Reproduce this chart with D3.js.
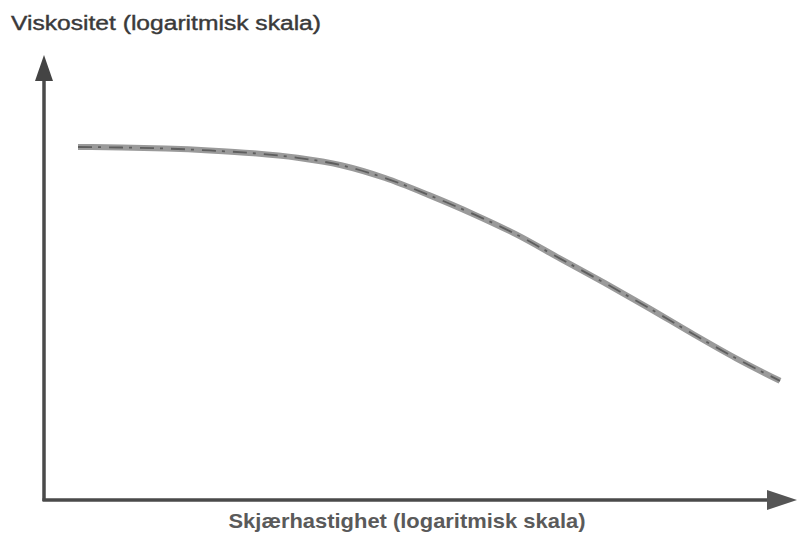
<!DOCTYPE html>
<html>
<head>
<meta charset="utf-8">
<script src="https://cdn.jsdelivr.net/npm/d3@7"></script>
<style>
  html, body { margin: 0; padding: 0; background: #fff; }
  svg { display: block; }
</style>
</head>
<body>
<script>
// Shear-thinning flow curve: viscosity vs. shear rate, both on log scales
const shearRate = [0.1, 0.178, 0.316, 0.562, 1, 1.78, 3.16, 5.62, 10, 17.8, 31.6, 56.2, 100, 178, 316, 562, 1000];
const viscosity = [1000, 990, 970, 935, 885, 810, 700, 545, 390, 270, 180, 112, 70, 43, 26, 16, 10.3];
const yTitle = "Viskositet (logaritmisk skala)";
const xTitle = "Skjærhastighet (logaritmisk skala)";

const W = 804, H = 553;
const originX = 44, originY = 500;
const xArrowTip = 797, yArrowTip = 55;

const svg = d3.select("body").append("svg")
  .attr("width", W).attr("height", H);

const x = d3.scaleLog().domain([0.1, 1000]).range([78, 780]);
const y = d3.scaleLog().domain([1, 1000]).range([originY, 147]);

const axisColor = "#4a4a4a";

// axes with arrowheads
svg.append("line")
  .attr("x1", originX).attr("y1", originY + 1)
  .attr("x2", originX).attr("y2", yArrowTip + 20)
  .attr("stroke", axisColor).attr("stroke-width", 3.5);
svg.append("path")
  .attr("d", `M${originX},${yArrowTip} L${originX - 9},${yArrowTip + 26} L${originX + 9},${yArrowTip + 26} Z`)
  .attr("fill", "#444");

svg.append("line")
  .attr("x1", originX - 1.5).attr("y1", originY)
  .attr("x2", xArrowTip - 20).attr("y2", originY)
  .attr("stroke", axisColor).attr("stroke-width", 3.5);
svg.append("path")
  .attr("d", `M${xArrowTip},${originY} L${xArrowTip - 30},${originY - 10} L${xArrowTip - 30},${originY + 10} Z`)
  .attr("fill", "#555");

// flow curve
const pts = shearRate.map((s, i) => [s, viscosity[i]]);
const line = d3.line()
  .x(d => x(d[0]))
  .y(d => y(d[1]))
  .curve(d3.curveMonotoneX);

svg.append("path")
  .datum(pts)
  .attr("d", line)
  .attr("fill", "none")
  .attr("stroke", "#9a9a9a")
  .attr("stroke-width", 6)
  .attr("stroke-linecap", "butt");
svg.append("path")
  .datum(pts)
  .attr("d", line)
  .attr("fill", "none")
  .attr("stroke", "#5e5e5e")
  .attr("stroke-width", 1.8)
  .attr("stroke-dasharray", "14 6 3 8");

// axis titles
svg.append("text")
  .attr("x", 11).attr("y", 30)
  .attr("font-family", "Liberation Sans, Arial, sans-serif")
  .attr("font-size", 20)
  .attr("fill", "#3a3a3a")
  .attr("stroke", "#3a3a3a")
  .attr("stroke-width", 0.4)
  .attr("textLength", 310)
  .attr("lengthAdjust", "spacingAndGlyphs")
  .text(yTitle);

svg.append("text")
  .attr("x", 407).attr("y", 528)
  .attr("text-anchor", "middle")
  .attr("font-family", "Liberation Sans, Arial, sans-serif")
  .attr("font-size", 21)
  .attr("font-weight", "bold")
  .attr("fill", "#5a5a5a")
  .attr("textLength", 357)
  .attr("lengthAdjust", "spacingAndGlyphs")
  .text(xTitle);
</script>
</body>
</html>
